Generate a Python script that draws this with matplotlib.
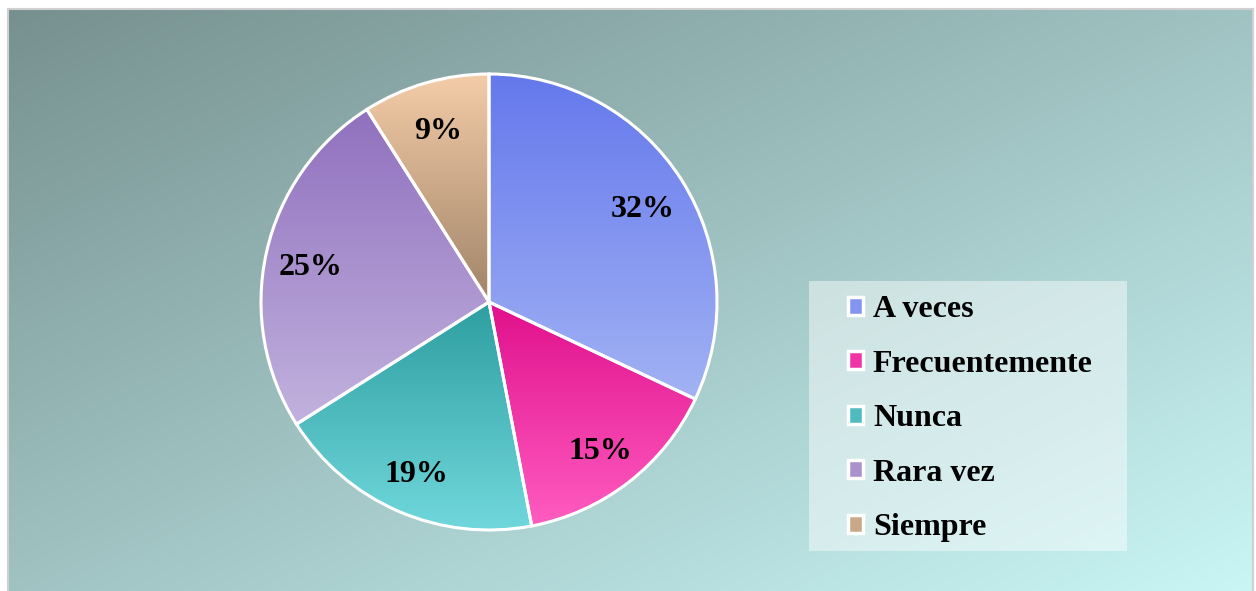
import numpy as np
import matplotlib
matplotlib.use("Agg")
import matplotlib.pyplot as plt
import matplotlib.transforms as mtransforms
from matplotlib.colors import to_rgb
from matplotlib.patches import Patch, Rectangle

# data
categories = ["A veces", "Frecuentemente", "Nunca", "Rara vez", "Siempre"]
percentages = [32, 15, 19, 25, 9]
# top / bottom colours of each wedge's vertical gradient
top_colors = ["#6478EC", "#E0108C", "#2E9EA0", "#9070BE", "#F4CCA8"]
bottom_colors = ["#A2B2F4", "#FF5CC0", "#70D8DC", "#C2B2DE", "#A08468"]

W, H = 1256, 591
plt.rcParams["font.family"] = ["Liberation Serif", "DejaVu Serif"]
plt.rcParams["font.weight"] = "bold"

fig = plt.figure(figsize=(W / 100, H / 100), dpi=100)
fig.patch.set_facecolor("white")


def gradient(c0, c1, n=256):
    c0, c1 = np.array(to_rgb(c0)), np.array(to_rgb(c1))
    t = np.linspace(0, 1, n)[:, None]
    return c0 + (c1 - c0) * t


# background panel with diagonal gradient
bg = fig.add_axes([8 / W, 0, (1253 - 8) / W, (H - 9) / H])
yy, xx = np.mgrid[0:1:300j, 0:1:600j]
t = 0.5 * (xx + yy)
c0 = np.array(to_rgb("#76908F"))
c1 = np.array(to_rgb("#CAF6F6"))
bg.imshow(c0 + (c1 - c0) * t[..., None], aspect="auto", extent=[0, 1, 1, 0])
bg.set_xticks([])
bg.set_yticks([])
for side, sp in bg.spines.items():
    sp.set_color("#D0D0D0")
    sp.set_linewidth(1.5)
bg.spines["bottom"].set_visible(False)

# pie
cx, cy, r = 489, 302, 228
ax = fig.add_axes([(cx - r) / W, (H - cy - r) / H, 2 * r / W, 2 * r / H])
ax.patch.set_alpha(0)
wedges, texts, autotexts = ax.pie(
    percentages,
    startangle=90,
    counterclock=False,
    autopct="%1.0f%%",
    pctdistance=0.8,
    wedgeprops=dict(edgecolor="white", linewidth=2.2, facecolor="none"),
    textprops=dict(fontsize=23, fontweight="bold", color="black"),
)
inv = ax.transData.inverted()
for w, ct, cb in zip(wedges, top_colors, bottom_colors):
    bb = w.get_window_extent()
    (x0, y0), (x1, y1) = inv.transform([[bb.x0, bb.y0], [bb.x1, bb.y1]])
    im = ax.imshow(gradient(ct, cb)[:, None, :], aspect="auto",
                   extent=[x0, x1, y0, y1], origin="upper", zorder=0.5)
    im.set_clip_path(w)
    w.set_zorder(1)
shift = mtransforms.ScaledTranslation(0, -5 / 100, fig.dpi_scale_trans)
for t_ in autotexts:
    t_.set_zorder(3)
    t_.set_transform(t_.get_transform() + shift)
ax.set_xlim(-1, 1)
ax.set_ylim(-1, 1)
ax.set_aspect("equal")
ax.axis("off")

# legend box
fig.patches.append(Rectangle((809 / W, 1 - 551 / H), (1127 - 809) / W, (551 - 281) / H,
                             transform=fig.transFigure, facecolor="white",
                             alpha=0.45, edgecolor="none", zorder=0))
mid_colors = [tuple(0.5 * (np.array(to_rgb(a)) + np.array(to_rgb(b))))
              for a, b in zip(top_colors, bottom_colors)]
handles = [Patch(facecolor=c, edgecolor="white", linewidth=2.5, label=lab)
           for c, lab in zip(mid_colors, categories)]
fig.legend(handles=handles, loc="upper left", bbox_to_anchor=(848 / W, 1 - 295 / H),
           frameon=False, prop=dict(weight="bold", size=23),
           handlelength=0.48, handleheight=0.48, handletextpad=0.3,
           labelspacing=0.8, borderpad=0, borderaxespad=0)

fig.savefig("out.png", dpi=100)
